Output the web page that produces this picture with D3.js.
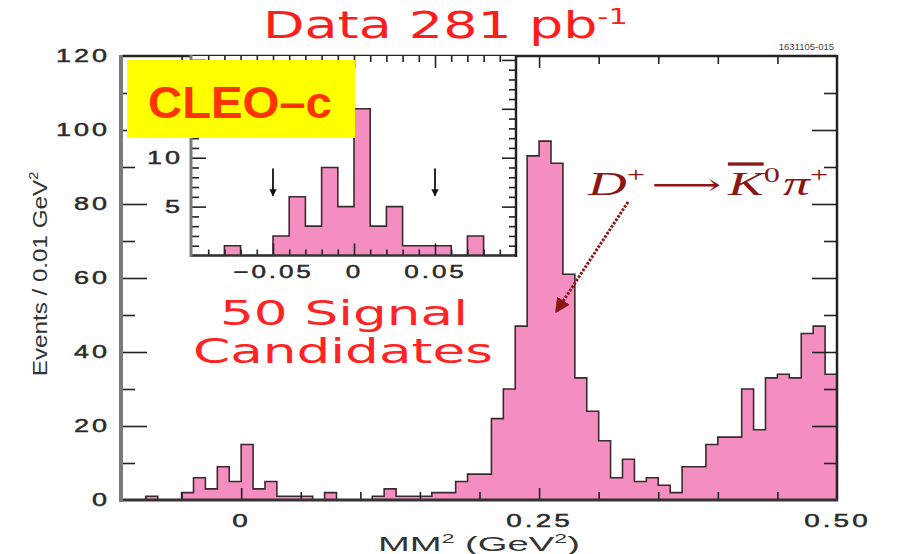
<!DOCTYPE html>
<html><head><meta charset="utf-8">
<script src="https://cdn.jsdelivr.net/npm/d3@7"></script>
<style>body{margin:0;background:#fff}svg{display:block}</style>
</head><body>
<svg id="c" width="900" height="554"></svg>
<script>
// ---------- data ----------
const binStart = -0.1;
const binWidth = 0.01;
const counts = [0,0,1,0,0,2,6,3,9,5, 15,3,5,1,1,1,0,2,0,0,
                0,1,3,1,1,1,2,2,5,7, 7,22,30,47,93,97,91,61,33,24,
                16,6,11,5,6,4,2,9,9,15, 17,17,30,19,33,34,33,45,47,34];
const xDomain = [-0.1, 0.5];
const yDomain = [0, 120];
const xTickValues = [0, 0.25, 0.5];
const xTickLabels = ["0", "0.25", "0.50"];
const yTickValues = [0, 20, 40, 60, 80, 100, 120];
const insetXDomain = [-0.1, 0.1];
const insetYDomain = [0, 20.4];
const insetXTickValues = [-0.05, 0, 0.05];
const insetXTickLabels = ["\u22120.05", "0", "0.05"];
const insetYTickValues = [5, 10];
const signalWindow = [-0.05, 0.05];
const insetCounts = counts.slice(0, 20);

// ---------- setup ----------
const svg = d3.select("#c");
const x = d3.scaleLinear(xDomain, [122, 837]);
const y = d3.scaleLinear(yDomain, [500, 56]);
const xi = d3.scaleLinear(insetXDomain, [192, 516]);
const yi = d3.scaleLinear(insetYDomain, [255.5, 56]);

const FILL = "#f58ec0", EDGE = "#3a2a30", AXIS = "#222", GRAYAX = "#7a7a7a";
const LBL = "Liberation Sans, Arial, sans-serif";

function fitH(sel, w, ax) {
  const bb = sel.node().getBBox();
  const s = w / bb.width;
  sel.attr("transform", `translate(${ax},0) scale(${s},1) translate(${-ax},0)`);
}
function bins(arr) {
  return arr.map((v, i) => ({lo: binStart + i * binWidth, hi: binStart + (i + 1) * binWidth, v}));
}
function drawHist(g, data, xs, ys) {
  const pts = bins(data).flatMap(b => [[b.lo, b.v], [b.hi, b.v]]);
  g.append("path")
    .attr("d", d3.area().x(d => xs(d[0])).y0(ys(0)).y1(d => ys(d[1]))(pts))
    .attr("fill", FILL);
  g.append("path")
    .attr("d", d3.line().x(d => xs(d[0])).y(d => ys(d[1]))(pts))
    .attr("fill", "none").attr("stroke", EDGE).attr("stroke-width", 1.6);
}
function tickAxis(g, axis) {
  g.call(axis);
  g.select(".domain").remove();
  g.selectAll("line").attr("stroke", AXIS).attr("stroke-width", 1.6);
}
function styleNum(sel, s) {
  sel.attr("font-family", LBL).attr("font-size", 18).attr("fill", "#2a2a2a")
    .attr("stroke", "#2a2a2a").attr("stroke-width", 0.45)
    .attr("letter-spacing", 2).attr("transform", `scale(${s},1)`);
}

// ---------- main histogram ----------
const gMain = svg.append("g");
drawHist(gMain, counts, x, y);

// main ticks (pointing inward)
const minorY = d3.range(10, 120, 20), majorY = d3.range(20, 120, 20);
tickAxis(svg.append("g").attr("transform", "translate(122,0)"),
  d3.axisLeft(y).tickValues(minorY).tickSize(-13).tickFormat(""));
tickAxis(svg.append("g").attr("transform", "translate(122,0)"),
  d3.axisLeft(y).tickValues(majorY).tickSize(-25).tickFormat(""));
tickAxis(svg.append("g").attr("transform", "translate(837,0)"),
  d3.axisRight(y).tickValues(minorY).tickSize(-13).tickFormat(""));
tickAxis(svg.append("g").attr("transform", "translate(837,0)"),
  d3.axisRight(y).tickValues(majorY).tickSize(-25).tickFormat(""));
const xMinor = d3.range(-0.05, 0.46, 0.05).filter(v => Math.abs(v / 0.25 - Math.round(v / 0.25)) > 1e-6);
const xMajor = [0, 0.25];
tickAxis(svg.append("g").attr("transform", "translate(0,500)"),
  d3.axisBottom(x).tickValues(xMinor).tickSize(-8).tickFormat(""));
tickAxis(svg.append("g").attr("transform", "translate(0,500)"),
  d3.axisBottom(x).tickValues(xMajor).tickSize(-12).tickFormat(""));
tickAxis(svg.append("g").attr("transform", "translate(0,56)"),
  d3.axisTop(x).tickValues(xMinor).tickSize(-8).tickFormat(""));
tickAxis(svg.append("g").attr("transform", "translate(0,56)"),
  d3.axisTop(x).tickValues(xMajor).tickSize(-12).tickFormat(""));

// frame
svg.append("line").attr("x1", 122).attr("x2", 837).attr("y1", 56).attr("y2", 56).attr("stroke", AXIS).attr("stroke-width", 2.5);
svg.append("line").attr("x1", 837).attr("x2", 837).attr("y1", 55).attr("y2", 501).attr("stroke", AXIS).attr("stroke-width", 2.5);
svg.append("line").attr("x1", 120).attr("x2", 838).attr("y1", 500).attr("y2", 500).attr("stroke", "#333").attr("stroke-width", 2.8);
svg.append("line").attr("x1", 121).attr("x2", 121).attr("y1", 55).attr("y2", 502).attr("stroke", GRAYAX).attr("stroke-width", 4);

// tick labels
const yLab = svg.append("g").attr("transform", "translate(122,0)")
  .call(d3.axisLeft(y).tickValues(yTickValues).tickSize(0).tickPadding(12));
yLab.select(".domain").remove();
styleNum(yLab.selectAll("text"), 1.5);
yLab.selectAll("text").attr("x", -12 / 1.5);

const xLab = svg.append("g").attr("transform", "translate(0,500)")
  .call(d3.axisBottom(x).tickValues(xTickValues).tickSize(0).tickPadding(14)
    .tickFormat((d, i) => xTickLabels[i]));
xLab.select(".domain").remove();
styleNum(xLab.selectAll("text"), 1.55);

// axis titles
const xt = svg.append("text").attr("x", 378).attr("y", 551).attr("font-family", LBL)
  .attr("font-size", 20).attr("fill", "#333");
xt.append("tspan").text("MM");
xt.append("tspan").attr("font-size", 12).attr("dy", -8).text("2");
xt.append("tspan").attr("dy", 8).text(" (GeV");
xt.append("tspan").attr("font-size", 12).attr("dy", -8).text("2");
xt.append("tspan").attr("dy", 8).text(")");
fitH(xt, 202, 378);

const ytG = svg.append("g").attr("transform", "translate(47,274) rotate(-90)");
const yt = ytG.append("text").attr("text-anchor", "middle").attr("font-family", LBL)
  .attr("font-size", 20).attr("fill", "#333");
yt.append("tspan").text("Events / 0.01 GeV");
yt.append("tspan").attr("font-size", 12).attr("dy", -9).text("2");
fitH(yt, 205, 0);

// title
const title = svg.append("text").attr("x", 263).attr("y", 38).attr("font-family", "DejaVu Sans, sans-serif")
  .attr("font-size", 37).attr("fill", "#ff1c1c");
title.append("tspan").text("Data 281 pb");
title.append("tspan").attr("font-size", 21).attr("dy", -14).text("-1");
fitH(title, 365, 263);

svg.append("text").attr("x", 834).attr("y", 50).attr("text-anchor", "end")
  .attr("font-family", LBL).attr("font-size", 9.5).attr("fill", "#444").text("1631105-015");

// signal text
const s1 = svg.append("text").attr("x", 220).attr("y", 325).attr("font-family", "DejaVu Sans, sans-serif")
  .attr("font-size", 33).attr("fill", "#ff2424").text("50 Signal");
fitH(s1, 248, 220);
const s2 = svg.append("text").attr("x", 193).attr("y", 363).attr("font-family", "DejaVu Sans, sans-serif")
  .attr("font-size", 33).attr("fill", "#ff2424").text("Candidates");
fitH(s2, 300, 193);

// decay label and arrow
const DR = "#8b1616";
const dl = svg.append("text").attr("x", 588).attr("y", 195).attr("font-family", "Liberation Serif, serif")
  .attr("font-size", 33).attr("fill", DR);
dl.append("tspan").attr("font-style", "italic").text("D");
dl.append("tspan").attr("font-size", 20).attr("dy", -13).text("+");
dl.append("tspan").attr("dy", 13).attr("dx", 4).attr("font-family", "DejaVu Serif, serif").attr("font-size", 30).text("\u27f6");
dl.append("tspan").attr("dx", 4).attr("font-style", "italic").attr("text-decoration", "overline").text("K");
dl.append("tspan").attr("font-size", 20).attr("dy", -13).text("0");
dl.append("tspan").attr("dy", 13).attr("dx", 2).attr("font-style", "italic").text("\u03c0");
dl.append("tspan").attr("font-size", 20).attr("dy", -13).text("+");
fitH(dl, 242, 588);

const defs = svg.append("defs");
defs.append("marker").attr("id", "ah").attr("viewBox", "0 0 10 10").attr("refX", 9).attr("refY", 5)
  .attr("markerWidth", 5).attr("markerHeight", 5).attr("orient", "auto")
  .append("path").attr("d", "M0,0L10,5L0,10z").attr("fill", DR);
defs.append("marker").attr("id", "ahk").attr("viewBox", "0 0 10 10").attr("refX", 9).attr("refY", 5)
  .attr("markerWidth", 4).attr("markerHeight", 4).attr("orient", "auto")
  .append("path").attr("d", "M0,0L10,5L0,10z").attr("fill", "#111");
svg.append("line").attr("x1", 628).attr("y1", 202).attr("x2", 556).attr("y2", 312)
  .attr("stroke", DR).attr("stroke-width", 3).attr("stroke-dasharray", "2.5,1.5")
  .attr("marker-end", "url(#ah)");

// ---------- inset ----------
const gi = svg.append("g");
gi.append("rect").attr("x", 192).attr("y", 56).attr("width", 324).attr("height", 199.5).attr("fill", "#fff");
drawHist(gi, insetCounts, xi, yi);
const iMinorX = d3.range(-0.09, 0.1, 0.01).filter(v => Math.abs(v / 0.05 - Math.round(v / 0.05)) > 1e-6);
const iMajorX = [-0.05, 0, 0.05];
tickAxis(gi.append("g").attr("transform", "translate(0,255.5)"),
  d3.axisBottom(xi).tickValues(iMinorX).tickSize(-6).tickFormat(""));
tickAxis(gi.append("g").attr("transform", "translate(0,255.5)"),
  d3.axisBottom(xi).tickValues(iMajorX).tickSize(-12).tickFormat(""));
tickAxis(gi.append("g").attr("transform", "translate(0,56)"),
  d3.axisTop(xi).tickValues(iMinorX).tickSize(-6).tickFormat(""));
tickAxis(gi.append("g").attr("transform", "translate(0,56)"),
  d3.axisTop(xi).tickValues(iMajorX).tickSize(-12).tickFormat(""));
const iMinorY = d3.range(1, 21).filter(v => v % 5 !== 0), iMajorY = [5, 10, 15, 20];
tickAxis(gi.append("g").attr("transform", "translate(192,0)"),
  d3.axisLeft(yi).tickValues(iMinorY).tickSize(-7).tickFormat(""));
tickAxis(gi.append("g").attr("transform", "translate(192,0)"),
  d3.axisLeft(yi).tickValues(iMajorY).tickSize(-14).tickFormat(""));
tickAxis(gi.append("g").attr("transform", "translate(516,0)"),
  d3.axisRight(yi).tickValues(iMinorY).tickSize(-7).tickFormat(""));
tickAxis(gi.append("g").attr("transform", "translate(516,0)"),
  d3.axisRight(yi).tickValues(iMajorY).tickSize(-14).tickFormat(""));
gi.append("line").attr("x1", 192).attr("x2", 517).attr("y1", 255.5).attr("y2", 255.5).attr("stroke", "#333").attr("stroke-width", 2.5);
gi.append("line").attr("x1", 516).attr("x2", 516).attr("y1", 55).attr("y2", 257).attr("stroke", AXIS).attr("stroke-width", 2.5);
gi.append("line").attr("x1", 191).attr("x2", 191).attr("y1", 55).attr("y2", 257).attr("stroke", GRAYAX).attr("stroke-width", 3);

const ixl = gi.append("g").attr("transform", "translate(0,255.5)")
  .call(d3.axisBottom(xi).tickValues(insetXTickValues).tickSize(0).tickPadding(10)
    .tickFormat((d, i) => insetXTickLabels[i]));
ixl.select(".domain").remove();
styleNum(ixl.selectAll("text"), 1.45);
const iyl = gi.append("g").attr("transform", "translate(192,0)")
  .call(d3.axisLeft(yi).tickValues(insetYTickValues).tickSize(0).tickPadding(9));
iyl.select(".domain").remove();
styleNum(iyl.selectAll("text"), 1.5);
iyl.selectAll("text").attr("x", -9 / 1.5);

gi.selectAll(".win").data(signalWindow).join("line").attr("class", "win")
  .attr("x1", d => xi(d)).attr("x2", d => xi(d)).attr("y1", yi(8.9)).attr("y2", yi(6.1))
  .attr("stroke", "#111").attr("stroke-width", 1.8).attr("marker-end", "url(#ahk)");

// ---------- CLEO-c label ----------
svg.append("rect").attr("x", 127).attr("y", 60).attr("width", 228).attr("height", 78).attr("fill", "#ffff00");
const cl = svg.append("text").attr("x", 148).attr("y", 118).attr("font-family", LBL).attr("font-weight", "bold")
  .attr("font-size", 44).attr("fill", "#ff3300").text("CLEO\u2013c");
fitH(cl, 184, 148);
</script>
</body></html>
